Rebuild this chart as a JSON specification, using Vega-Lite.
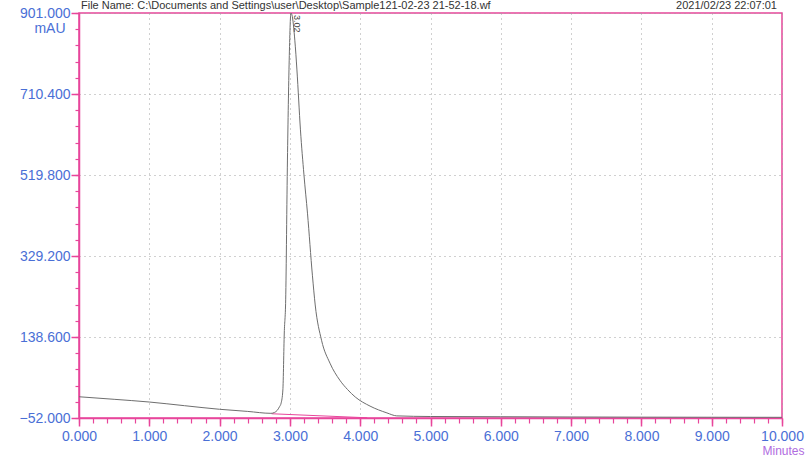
{
  "$schema": "https://vega.github.io/schema/vega-lite/v6.json",
  "width": 703,
  "height": 405,
  "autosize": {"type": "none"},
  "padding": {"left": 79, "top": 13, "right": 27, "bottom": 45},
  "background": "white",
  "config": {
    "view": {"stroke": "#e8459b", "strokeWidth": 1.5},
    "font": "Liberation Sans"
  },
  "datasets": {
    "trace": [
      {"t": 0.0, "v": -2},
      {"t": 0.5, "v": -8},
      {"t": 1.0, "v": -14.4},
      {"t": 1.5, "v": -23},
      {"t": 2.0, "v": -31.5},
      {"t": 2.4, "v": -36.5},
      {"t": 2.73, "v": -41},
      {"t": 2.78, "v": -39},
      {"t": 2.82, "v": -34},
      {"t": 2.85, "v": -26},
      {"t": 2.875, "v": -17},
      {"t": 2.9, "v": 14},
      {"t": 2.92, "v": 148},
      {"t": 2.94, "v": 226},
      {"t": 2.965, "v": 555},
      {"t": 2.99, "v": 790},
      {"t": 3.015, "v": 901},
      {"t": 3.03, "v": 896},
      {"t": 3.07, "v": 837},
      {"t": 3.1, "v": 767},
      {"t": 3.15, "v": 626},
      {"t": 3.2, "v": 520},
      {"t": 3.25, "v": 430},
      {"t": 3.32, "v": 284},
      {"t": 3.36, "v": 214},
      {"t": 3.45, "v": 131},
      {"t": 3.57, "v": 77},
      {"t": 3.71, "v": 37},
      {"t": 3.82, "v": 15},
      {"t": 3.93, "v": -2.6},
      {"t": 4.14, "v": -24},
      {"t": 4.38, "v": -40},
      {"t": 4.52, "v": -47},
      {"t": 5.0, "v": -48.5},
      {"t": 6.0, "v": -49},
      {"t": 7.0, "v": -49.6},
      {"t": 8.0, "v": -50},
      {"t": 9.0, "v": -50.2},
      {"t": 10.0, "v": -50.4}
    ],
    "baseline": [
      {"t": 2.74, "v": -42},
      {"t": 4.1, "v": -51.5}
    ]
  },
  "layer": [
    {
      "data": {"name": "baseline"},
      "mark": {"type": "line", "color": "#e8459b", "strokeWidth": 1, "clip": true},
      "encoding": {
        "x": {
          "field": "t", "type": "quantitative",
          "scale": {"domain": [0, 10], "nice": false, "zero": false},
          "axis": {
            "orient": "bottom",
            "values": [0,0.2,0.4,0.6,0.8,1,1.2,1.4,1.6,1.8,2,2.2,2.4,2.6,2.8,3,3.2,3.4,3.6,3.8,4,4.2,4.4,4.6,4.8,5,5.2,5.4,5.6,5.8,6,6.2,6.4,6.6,6.8,7,7.2,7.4,7.6,7.8,8,8.2,8.4,8.6,8.8,9,9.2,9.4,9.6,9.8,10],
            "labels": false, "domain": false, "grid": false, "title": null,
            "tickSize": 5, "tickColor": "#e8459b", "tickWidth": 1.2
          }
        },
        "y": {
          "field": "v", "type": "quantitative",
          "scale": {"domain": [-52, 901], "nice": false, "zero": false},
          "axis": {
            "orient": "left",
            "values": [-52,-13.88,24.24,62.36,100.48,138.6,176.72,214.84,252.96,291.08,329.2,367.32,405.44,443.56,481.68,519.8,557.92,596.04,634.16,672.28,710.4,748.52,786.64,824.76,862.88,901],
            "labels": false, "domain": false, "grid": false, "title": null,
            "tickSize": 4, "tickColor": "#e8459b", "tickWidth": 1.2
          }
        }
      }
    },
    {
      "data": {"name": "trace"},
      "mark": {"type": "line", "color": "#6e6e6e", "strokeWidth": 1, "interpolate": "monotone", "clip": true},
      "encoding": {
        "x": {
          "field": "t", "type": "quantitative",
          "scale": {"domain": [0, 10], "nice": false, "zero": false},
          "axis": {
            "orient": "bottom",
            "values": [0,1,2,3,4,5,6,7,8,9,10],
            "format": ".3f",
            "labelFlush": false, "labelOverlap": false,
            "labelColor": "#4a6fd6", "labelFontSize": 14, "labelPadding": 3,
            "domainColor": "#e8459b", "domainWidth": 1.5,
            "tickColor": "#e8459b", "tickSize": 8, "tickWidth": 1.5,
            "grid": true, "gridColor": "#a0a0a0", "gridDash": [1, 4], "gridWidth": 1,
            "title": "Minutes",
            "titleColor": "#b06ce0", "titleFontSize": 12, "titleFontWeight": "normal",
            "titleX": 704, "titleY": 27, "titleAlign": "center", "titleBaseline": "top"
          }
        },
        "y": {
          "field": "v", "type": "quantitative",
          "scale": {"domain": [-52, 901], "nice": false, "zero": false},
          "axis": {
            "orient": "left",
            "values": [-52, 138.6, 329.2, 519.8, 710.4, 901],
            "format": ".3f",
            "labelFlush": false, "labelOverlap": false,
            "labelColor": "#4a6fd6", "labelFontSize": 14, "labelPadding": 1,
            "domainColor": "#e8459b", "domainWidth": 1.5,
            "tickColor": "#e8459b", "tickSize": 8, "tickWidth": 1.5,
            "grid": true, "gridColor": "#a0a0a0", "gridDash": [1, 4], "gridWidth": 1,
            "title": "mAU",
            "titleColor": "#4a6fd6", "titleFontSize": 14, "titleFontWeight": "normal",
            "titleAngle": 0, "titleX": -14, "titleY": 15, "titleAlign": "right", "titleBaseline": "middle"
          }
        }
      }
    },
    {
      "data": {"values": [{"t": 3.02, "v": 901, "label": "3.02"}]},
      "mark": {"type": "text", "angle": 90, "align": "left", "baseline": "bottom", "fontSize": 9, "color": "#444444", "dx": 2, "dy": -1},
      "encoding": {
        "x": {"field": "t", "type": "quantitative", "scale": {"domain": [0, 10]}, "axis": null},
        "y": {"field": "v", "type": "quantitative", "scale": {"domain": [-52, 901]}, "axis": null},
        "text": {"field": "label"}
      }
    },
    {
      "data": {"values": [{"t": 10, "v": 901, "label": "2021/02/23 22:07:01"}]},
      "mark": {"type": "text", "align": "right", "baseline": "alphabetic", "fontSize": 11, "color": "#333333", "dx": -5, "dy": -4},
      "encoding": {
        "x": {"field": "t", "type": "quantitative", "scale": {"domain": [0, 10]}, "axis": null},
        "y": {"field": "v", "type": "quantitative", "scale": {"domain": [-52, 901]}, "axis": null},
        "text": {"field": "label"}
      }
    },
    {
      "data": {"values": [{"t": 0, "v": 901, "label": "File Name: C:\\Documents and Settings\\user\\Desktop\\Sample121-02-23 21-52-18.wf"}]},
      "mark": {"type": "text", "align": "left", "baseline": "alphabetic", "fontSize": 11, "color": "#333333", "dx": 2, "dy": -4},
      "encoding": {
        "x": {"field": "t", "type": "quantitative", "scale": {"domain": [0, 10]}, "axis": null},
        "y": {"field": "v", "type": "quantitative", "scale": {"domain": [-52, 901]}, "axis": null},
        "text": {"field": "label"}
      }
    }
  ],
  "resolve": {"axis": {"x": "independent", "y": "independent"}}
}
